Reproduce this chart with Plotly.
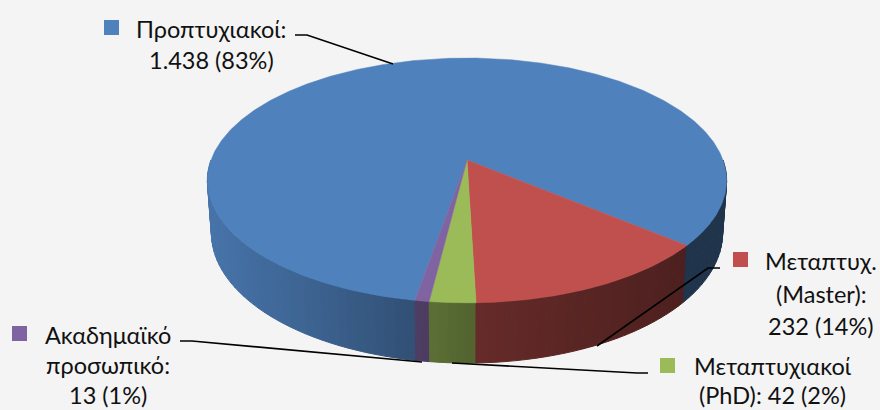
import numpy as np
import plotly.graph_objects as go

# ---- data -------------------------------------------------------------
categories = ["Προπτυχιακοί", "Μεταπτυχ. (Master)", "Μεταπτυχιακοί (PhD)", "Ακαδημαϊκό προσωπικό"]
values = [1438, 232, 42, 13]
colors = ["#4f81bd", "#c0504d", "#9bbb59", "#8064a2"]
label_lines = [
    ["Προπτυχιακοί:", "1.438 (83%)"],
    ["Μεταπτυχ.", "(Master):", "232 (14%)"],
    ["Μεταπτυχιακοί", "(PhD): 42 (2%)"],
    ["Ακαδημαϊκό", "προσωπικό:", "13 (1%)"],
]

# ---- layout / projection parameters -----------------------------------
BG = "#f4f4f4"
CX, CY = 467.0, 160.0      # pie centre on the top face
A, B, K = 256.0, 119.0, 0.167   # perspective of the disc
BOTTOM_CY, BOTTOM_A, BOTTOM_B = 211.3, 252.0, 126.4  # lower rim
RED_START = -39.9          # degrees; clockwise order on screen

label_pos = [
    [(211, 29), (211, 60)],
    [(820.5, 261), (821, 294), (821, 326)],
    [(772.5, 366), (772, 395)],
    [(107.5, 335), (107.5, 365), (107.5, 395)],
]
key_pos = [(104, 20), (733, 252), (660, 358), (12, 326)]
leaders = [
    [(295, 35), (307, 35), (393, 64)],
    [(720, 268), (708, 268), (597, 346)],
    [(648, 373), (637, 373), (452, 363)],
    [(180, 341), (192, 341), (422, 362)],
]


def project(theta, cy=CY, a=A, b=B):
    t = np.radians(theta)
    u, v = np.cos(t), np.sin(t)
    w = 1 + K * v
    return CX + a * u / w, cy - b * v / w


def hex_scale(hexcol, f):
    r, g, b = (int(hexcol[i:i + 2], 16) for i in (1, 3, 5))
    return f"rgb({r * f:.0f},{g * f:.0f},{b * f:.0f})"


def shade(x):
    return float(np.interp(x, [207, 300, 413, 476, 685, 727], [0.90, 0.78, 0.62, 0.53, 0.40, 0.40]))


# slice angular ranges, clockwise from the Master slice; the largest slice wraps round
total = sum(values)
sweeps = [v / total * 360 for v in values]
order = [1, 2, 3, 0]
ranges = {}
a = RED_START
for i in order:
    ranges[i] = (a, a - sweeps[i])
    a -= sweeps[i]

fig = go.Figure()


def poly(xs, ys, color, width=0.7):
    fig.add_trace(go.Scatter(
        x=list(xs), y=list(ys), mode="lines", fill="toself", fillcolor=color,
        line=dict(color=color, width=width), hoverinfo="skip", showlegend=False,
    ))


# wall strips along the front half of the rim
breaks = {-180.0, 0.0}
for i in order:
    for ang in ranges[i]:
        n = ((ang + 180) % 360) - 180
        if -180 < n < 0:
            breaks.add(n)
breaks = sorted(breaks)


def slice_at(theta):
    for i in order:
        hi, lo = ranges[i]
        t = theta
        while t > hi:
            t -= 360
        while t < lo:
            t += 360
        if lo <= t <= hi:
            return i
    return 0


for a0, a1 in zip(breaks[:-1], breaks[1:]):
    n = max(1, int(np.ceil((a1 - a0) / 2.0)))
    edges = np.linspace(a0, a1, n + 1)
    for e0, e1 in zip(edges[:-1], edges[1:]):
        arc = np.linspace(e0, e1, 4)
        xt, yt = project(arc)
        xb, yb = project(arc[::-1], BOTTOM_CY, BOTTOM_A, BOTTOM_B)
        mid = (e0 + e1) / 2
        xm, _ = project(np.array([mid]))
        poly(np.r_[xt, xb, xt[0]], np.r_[yt, yb, yt[0]],
             hex_scale(colors[slice_at(mid)], shade(xm[0])), width=1.0)

# top face
for i in [0, 1, 2, 3]:
    hi, lo = ranges[i]
    arc = np.linspace(hi, lo, max(8, int(abs(hi - lo) * 2)))
    x, y = project(arc)
    poly(np.r_[CX, x, CX], np.r_[CY, y, CY], colors[i], width=0.5)

# leader lines
shapes = []
for pts in leaders:
    path = "M " + " L ".join(f"{x},{y}" for x, y in pts)
    shapes.append(dict(type="path", path=path, xref="x", yref="y",
                       line=dict(color="#000000", width=1.6)))
# legend keys
for (x, y), c in zip(key_pos, colors):
    shapes.append(dict(type="rect", x0=x, x1=x + 15, y0=y, y1=y + 15, xref="x", yref="y",
                       fillcolor=c, line=dict(width=0)))

annotations = []
for lines, poss in zip(label_lines, label_pos):
    for t, (x, y) in zip(lines, poss):
        annotations.append(dict(text=t, x=x, y=y, xref="x", yref="y", showarrow=False,
                                xanchor="center", yanchor="middle",
                                font=dict(family="Lato, Carlito, 'Open Sans', sans-serif", size=23.5, color="#111111")))

fig.update_layout(
    width=880, height=410, margin=dict(l=0, r=0, t=0, b=0),
    paper_bgcolor=BG, plot_bgcolor=BG, showlegend=False,
    xaxis=dict(range=[0, 880], visible=False, fixedrange=True),
    yaxis=dict(range=[410, 0], visible=False, fixedrange=True),
    shapes=shapes, annotations=annotations,
)
fig.write_html("out.html", config=dict(displayModeBar=False),
               post_script="document.body.style.margin='0';document.body.style.overflow='hidden';document.body.style.background='" + BG + "';")
